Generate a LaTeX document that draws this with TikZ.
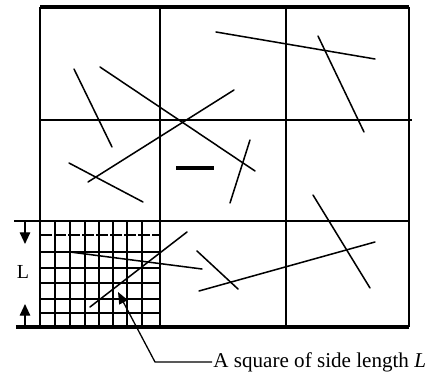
\documentclass[tikz,border=0pt]{standalone}
\usepackage{fontspec}
\setmainfont{Liberation Serif}
\usetikzlibrary{arrows.meta}

\tikzset{
  thin line/.style = {line width = 1.2pt},
  thick border/.style = {line width = 3pt},
  fiber/.style = {line width = 1.3pt, line cap = round},
  dim arrow/.style = {-{Triangle[width=9pt,length=10pt]}, line width = 1.2pt}
}

\begin{document}
\begin{tikzpicture}[x=0.03cm, y=-0.03cm]
  \useasboundingbox (0,0) rectangle (435,376);

  % cells
  \draw[thin line] (40,7) -- (40,327);
  \draw[thin line] (160,7) -- (160,327);
  \draw[thin line] (286,7) -- (286,327);
  \draw[thin line] (409,7) -- (409,327);
  \draw[thin line] (40,120) -- (412,120);
  \draw[thin line] (14,221) -- (409,221);
  \draw[thick border] (40,7) -- (409,7);
  \draw[thick border] (16,327) -- (409,327);

  % small grid
  \foreach \x in {55,70,85,99,113,127,142}
    \draw[thin line] (\x,221) -- (\x,327);
  \foreach \y in {252,268,283,299,313}
    \draw[thin line] (40,\y) -- (160,\y);
  \draw[line width = 2.4pt, dash pattern = on 10pt off 2pt] (40,235) -- (160,235);

  % fibres
  \foreach \xa/\ya/\xb/\yb in {
    216/32/375/59,
    318/36/364/132,
    74/69/112/147,
    100/67/255/171,
    234/90/88/182,
    69/163/143/202,
    250/140/230/203,
    313/195/370/288,
    197/251/238/289,
    199/291/375/242,
    187/232/90/307,
    70/252/202/269
  }{\draw[fiber] (\xa,\ya) -- (\xb,\yb);}
  \draw[line width = 3pt] (176,168) -- (214,168);

  % side length L
  \coordinate (topl) at (25,221);
  \coordinate (topt) at (25,244);
  \coordinate (botl) at (25,327);
  \coordinate (bott) at (25,304);
  \draw[dim arrow] (topl) -- (topt);
  \draw[dim arrow] (botl) -- (bott);
  \node[font=\fontsize{17}{20}\selectfont] (L) at (23,272) {L};

  % label
  \node[anchor=west, inner sep=1pt, font=\fontsize{18}{21}\selectfont] (lab) at (212,362) {A square of side length \textit{L}};
  \coordinate (bend) at (155,362);
  \coordinate (tip) at (118,292);
  \draw[-{Triangle[width=8pt,length=10pt]}, line width = 1.1pt] (lab.west) -- (bend) -- (tip);
\end{tikzpicture}
\end{document}
